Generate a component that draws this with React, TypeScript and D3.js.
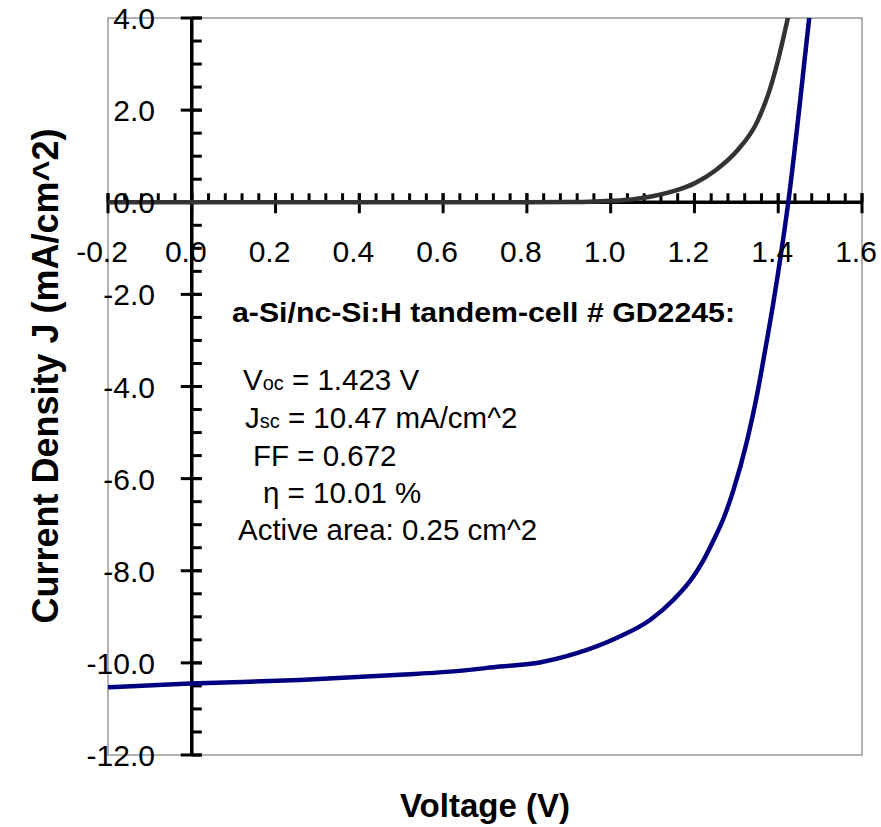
import React from "react";
import * as d3 from "d3";

// ---- data ----
const xTickValues = [-0.2, 0, 0.2, 0.4, 0.6, 0.8, 1.0, 1.2, 1.4, 1.6];
const xTickLabels = ["-0.2", "0.0", "0.2", "0.4", "0.6", "0.8", "1.0", "1.2", "1.4", "1.6"];
const yTickValues = [4, 2, 0, -2, -4, -6, -8, -10, -12];
const yTickLabels = ["4.0", "2.0", "0.0", "-2.0", "-4.0", "-6.0", "-8.0", "-10.0", "-12.0"];

// dark J-V curve
const darkV = [-0.2, 0, 0.2, 0.4, 0.6, 0.8, 0.9, 0.95, 1.0, 1.05, 1.1, 1.15, 1.2, 1.25, 1.3, 1.35, 1.38, 1.4, 1.423, 1.44];
const darkJ = [0, 0, 0, 0, 0, 0, 0.005, 0.012, 0.03, 0.06, 0.13, 0.24, 0.41, 0.69, 1.1, 1.75, 2.45, 3.1, 4.0, 4.7];

// illuminated J-V curve
const lightV = [-0.2, -0.004, 0.258, 0.497, 0.616, 0.736, 0.831, 0.919, 1.014, 1.094, 1.15, 1.197, 1.221, 1.245, 1.27, 1.293, 1.325, 1.349, 1.368, 1.388, 1.424, 1.474, 1.49];
const lightJ = [-10.53, -10.45, -10.37, -10.26, -10.19, -10.08, -9.99, -9.79, -9.46, -9.07, -8.63, -8.13, -7.78, -7.35, -6.85, -6.25, -5.2, -4.2, -3.25, -2.2, 0, 4.0, 5.3];

const annotationTitle = "a-Si/nc-Si:H tandem-cell # GD2245:";

export default function App() {
  const W = 881, H = 827;
  const left = 108, right = 862, top = 18, bottom = 755;
  const x = d3.scaleLinear().domain([-0.2, 1.6]).range([left, right]);
  const y = d3.scaleLinear().domain([-12, 4]).range([bottom, top]);
  const x0 = x(0);
  const y0 = y(0);

  const line = d3
    .line<[number, number]>()
    .x((d) => x(d[0]))
    .y((d) => y(d[1]))
    .curve(d3.curveMonotoneX);

  const darkPts: [number, number][] = darkV.map((v, i) => [v, darkJ[i]]);
  const lightPts: [number, number][] = lightV.map((v, i) => [v, lightJ[i]]);

  const xMinor = d3.range(-0.2, 1.6001, 0.04).map((v) => Math.round(v * 100) / 100);
  const yMinor = d3.range(-12, 4.001, 0.5);

  const font = "'Liberation Sans', Arial, sans-serif";
  const ann = { fs: 29.5 };

  return (
    <svg width={W} height={H} style={{ position: "absolute", left: 0, top: 0, background: "#fff" }} fontFamily={font}>
      <defs>
        <clipPath id="plotclip">
          <rect x={left} y={top} width={right - left} height={bottom - top} />
        </clipPath>
      </defs>
      <rect x={0} y={0} width={W} height={H} fill="#fff" />
      {/* plot frame */}
      <rect x={left} y={top} width={right - left} height={bottom - top} fill="none" stroke="#999" strokeWidth={1.5} />

      {/* y axis */}
      <line x1={x0} x2={x0} y1={top} y2={bottom} stroke="#000" strokeWidth={3.5} />
      {yMinor.map((v, i) => (
        <line key={"ym" + i} x1={x0} x2={x0 + 10} y1={y(v)} y2={y(v)} stroke="#000" strokeWidth={3} />
      ))}
      {yTickValues.map((v, i) => (
        <line key={"yM" + i} x1={x0 - 11} x2={x0 + 10} y1={y(v)} y2={y(v)} stroke="#000" strokeWidth={3} />
      ))}
      {/* x axis */}
      <line x1={left} x2={right} y1={y0} y2={y0} stroke="#000" strokeWidth={3.5} />
      {xMinor.map((v, i) => (
        <line key={"xm" + i} x1={x(v)} x2={x(v)} y1={y0 - 9} y2={y0} stroke="#000" strokeWidth={3} />
      ))}
      {xTickValues.map((v, i) => (
        <line key={"xM" + i} x1={x(v)} x2={x(v)} y1={y0 - 9} y2={y0 + 11} stroke="#000" strokeWidth={3} />
      ))}

      {/* curves */}
      <g clipPath="url(#plotclip)">
        <path d={line(darkPts) || ""} fill="none" stroke="#333333" strokeWidth={4.5} strokeLinejoin="round" />
        <path d={line(lightPts) || ""} fill="none" stroke="#000080" strokeWidth={4.5} strokeLinejoin="round" />
      </g>

      {/* tick labels */}
      {xTickValues.map((v, i) => (
        <text key={"xl" + i} x={x(v) - 6} y={262} textAnchor="middle" fontSize={30} fill="#000">
          {xTickLabels[i]}
        </text>
      ))}
      {yTickValues.map((v, i) => (
        <text key={"yl" + i} x={155} y={y(v) + 11} textAnchor="end" fontSize={30} fill="#000">
          {yTickLabels[i]}
        </text>
      ))}

      {/* axis titles */}
      <text x={485} y={817} textAnchor="middle" fontSize={33} fontWeight="bold" fill="#000">
        Voltage (V)
      </text>
      <text
        transform={`translate(58, 376) rotate(-90)`}
        textAnchor="middle"
        fontSize={36}
        fontWeight="bold"
        fill="#000"
      >
        Current Density J (mA/cm^2)
      </text>

      {/* annotation */}
      <text x={232} y={322} fontSize={28} fontWeight="bold" fill="#000" textLength={503} lengthAdjust="spacingAndGlyphs">
        {annotationTitle}
      </text>
      <text x={243} y={390} fontSize={ann.fs} fill="#000">
        V<tspan fontSize={20}>oc</tspan> = 1.423 V
      </text>
      <text x={245} y={428} fontSize={ann.fs} fill="#000">
        J<tspan fontSize={20}>sc</tspan> = 10.47 mA/cm^2
      </text>
      <text x={253} y={466} fontSize={ann.fs} fill="#000">
        FF = 0.672
      </text>
      <text x={263} y={503} fontSize={ann.fs} fill="#000">
        η = 10.01 %
      </text>
      <text x={238} y={540} fontSize={ann.fs} fill="#000">
        Active area: 0.25 cm^2
      </text>
    </svg>
  );
}
